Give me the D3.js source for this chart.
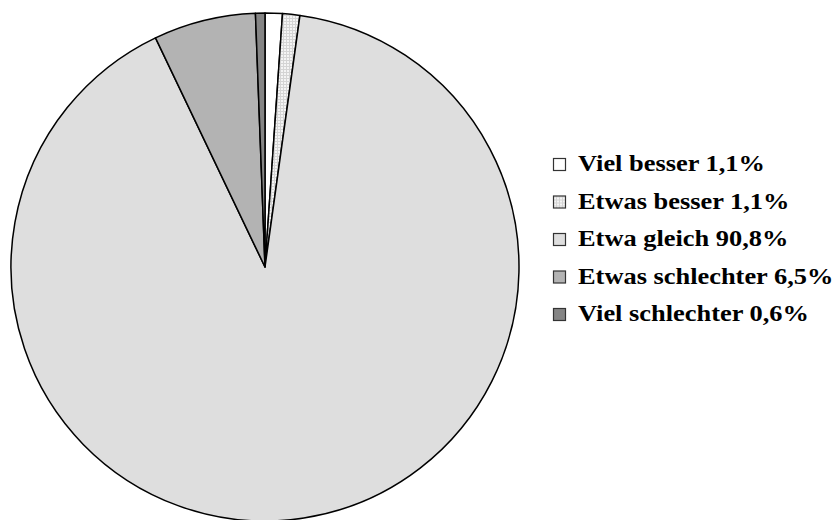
<!DOCTYPE html>
<html>
<head>
<meta charset="utf-8">
<script src="https://cdn.jsdelivr.net/npm/d3@7"></script>
<style>
  html, body { margin: 0; padding: 0; background: #fff; }
  svg { display: block; }
</style>
</head>
<body>
<svg id="chart" width="837" height="520"></svg>
<script>
// Answers and shares (percent), clockwise from 12 o'clock
const categories = ["Viel besser", "Etwas besser", "Etwa gleich", "Etwas schlechter", "Viel schlechter"];
const values = [1.1, 1.1, 90.8, 6.5, 0.6];
const valueLabels = ["1,1%", "1,1%", "90,8%", "6,5%", "0,6%"];
const fills = ["#ffffff", "url(#grid)", "#dedede", "#b3b3b3", "#858585"];

const svg = d3.select("#chart");
const cx = 265, cy = 267, radius = 254;

// Fine grid texture for the "Etwas besser" slice
const defs = svg.append("defs");
const pat = defs.append("pattern")
  .attr("id", "grid").attr("patternUnits", "userSpaceOnUse")
  .attr("width", 3).attr("height", 3);
pat.append("rect").attr("width", 3).attr("height", 3).attr("fill", "#f4f4f4");
pat.append("rect").attr("width", 1).attr("height", 3).attr("fill", "#d4d4d4");
pat.append("rect").attr("width", 3).attr("height", 1).attr("fill", "#d4d4d4");

const data = categories.map((c, i) => ({ name: c, value: values[i], label: valueLabels[i], fill: fills[i] }));

const pie = d3.pie().value(d => d.value).sort(null);
const arc = d3.arc().innerRadius(0).outerRadius(radius);

svg.append("g")
  .attr("transform", `translate(${cx},${cy})`)
  .selectAll("path")
  .data(pie(data))
  .join("path")
  .attr("d", arc)
  .attr("fill", d => d.data.fill)
  .attr("stroke", "#000")
  .attr("stroke-width", 1.5)
  .attr("stroke-linejoin", "round");

// Legend
const legendX = 553, legendY = 171, rowH = 37.5, box = 13;
const legend = svg.append("g");
const rows = legend.selectAll("g")
  .data(data)
  .join("g")
  .attr("transform", (d, i) => `translate(${legendX},${legendY + i * rowH})`);

rows.append("rect")
  .attr("x", 0.5).attr("y", -box + 0.5)
  .attr("width", box - 1).attr("height", box - 1)
  .attr("fill", d => d.fill)
  .attr("stroke", "#333").attr("stroke-width", 1.2);

// Labels are set in a slightly widened bold serif
rows.append("text")
  .attr("transform", "translate(25,0) scale(1.1,1)")
  .attr("font-family", "'Liberation Serif', 'Times New Roman', serif")
  .attr("font-weight", "bold")
  .attr("font-size", 24)
  .attr("fill", "#000")
  .text(d => `${d.name} ${d.label}`);
</script>
</body>
</html>
